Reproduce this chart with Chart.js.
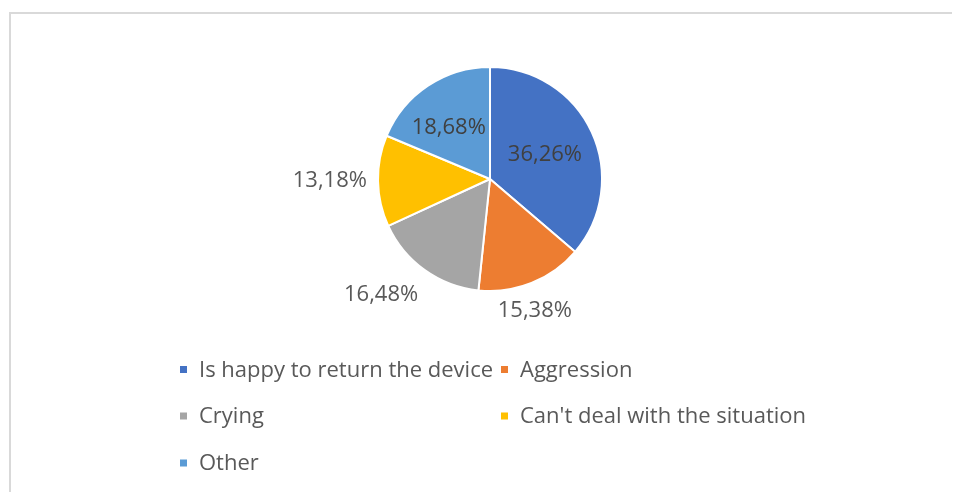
<!DOCTYPE html>
<html>
<head>
<meta charset="utf-8">
<script src="https://cdn.jsdelivr.net/npm/chart.js@4"></script>
<style>
  html, body { margin: 0; padding: 0; background: #fff; }
  canvas { display: block; }
</style>
</head>
<body>
<canvas id="chart" width="953" height="492"></canvas>
<script>
(function(){
  'use strict';

  // categories and shares (in %) as printed on the slices
  const categories = [
    'Is happy to return the device',
    'Aggression',
    'Crying',
    "Can't deal with the situation",
    'Other'
  ];
  const shares = [36.26, 15.38, 16.48, 13.18, 18.68];
  const sliceColors = ['#4472C4', '#ED7D31', '#A5A5A5', '#FFC000', '#5B9BD5'];

  const FONT = '"Open Sans", "Noto Sans", sans-serif';

  // light frame round the chart (top and left edges only, like the screenshot)
  const framePlugin = {
    id: 'frame',
    beforeDraw(chart) {
      const ctx = chart.ctx;
      ctx.save();
      ctx.fillStyle = '#fff';
      ctx.fillRect(0, 0, chart.width, chart.height);
      ctx.strokeStyle = '#d9d9d9';
      ctx.lineWidth = 2;
      ctx.beginPath();
      ctx.moveTo(10, chart.height);
      ctx.lineTo(10, 13);
      ctx.lineTo(952, 13);
      ctx.stroke();
      ctx.restore();
    }
  };

  // percentage labels, placed along each slice's middle angle
  const sliceLabels = {
    id: 'sliceLabels',
    afterDatasetsDraw(chart, args, opts) {
      const ctx = chart.ctx;
      const meta = chart.getDatasetMeta(0);
      ctx.save();
      ctx.font = opts.font;
      ctx.textAlign = 'center';
      ctx.textBaseline = 'middle';
      meta.data.forEach(function(arc, i) {
        const mid = (arc.startAngle + arc.endAngle) / 2 + opts.nudge[i] * Math.PI / 180;
        const d = arc.outerRadius * opts.dist[i];
        const x = arc.x + Math.cos(mid) * d;
        const y = arc.y + Math.sin(mid) * d;
        const txt = chart.data.datasets[0].data[i].toFixed(2).replace('.', ',') + '%';
        ctx.fillStyle = opts.dist[i] < 1 ? '#404040' : '#595959';
        ctx.fillText(txt, x, y);
      });
      ctx.restore();
    }
  };

  // two-column legend under the pie
  const gridLegend = {
    id: 'gridLegend',
    afterDraw(chart, args, opts) {
      const ctx = chart.ctx;
      const ds = chart.data.datasets[0];
      ctx.save();
      ctx.font = opts.font;
      ctx.textBaseline = 'middle';
      ctx.textAlign = 'left';
      chart.data.labels.forEach(function(label, i) {
        const x = opts.cols[i % opts.cols.length];
        const y = opts.rows[Math.floor(i / opts.cols.length)];
        ctx.fillStyle = ds.backgroundColor[i];
        ctx.fillRect(x, y - 3.5, 7, 7);
        ctx.fillStyle = '#595959';
        ctx.fillText(label, x + 19, y + 1);
      });
      ctx.restore();
    }
  };

  new Chart(document.getElementById('chart'), {
    type: 'pie',
    data: {
      labels: categories,
      datasets: [{
        data: shares,
        backgroundColor: sliceColors,
        borderColor: '#fff',
        borderWidth: 2
      }]
    },
    options: {
      responsive: false,
      animation: false,
      layout: { padding: { top: 66, bottom: 200, left: 100, right: 73 } },
      plugins: {
        legend: { display: false },
        tooltip: { enabled: false },
        sliceLabels: {
          font: '22px ' + FONT,
          dist:  [0.536, 1.24, 1.42, 1.43, 0.59],
          nudge: [1, 2.9, 7.6, 0.5, -5]
        },
        gridLegend: {
          font: '22px ' + FONT,
          cols: [180, 501],
          rows: [369.5, 416, 463]
        }
      }
    },
    plugins: [framePlugin, sliceLabels, gridLegend]
  });
})();
</script>
</body>
</html>
